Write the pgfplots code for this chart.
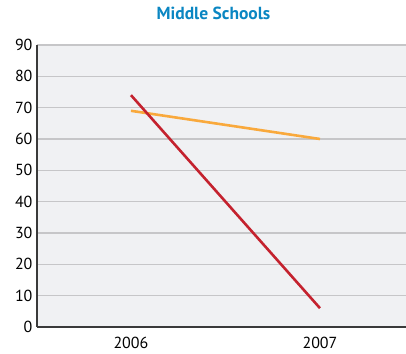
\documentclass[border=0pt]{standalone}
\usepackage{pgfplots}
\pgfplotsset{compat=1.18}
\usepackage{fontspec}
\setmainfont{PT Sans}
\definecolor{bgc}{HTML}{F0F1F3}
\definecolor{gridc}{HTML}{C6C6C8}
\definecolor{redl}{HTML}{C4222E}
\definecolor{orl}{HTML}{F9A93C}
\definecolor{titlec}{HTML}{0A86C2}
\definecolor{axc}{HTML}{3A3A3A}
\begin{document}
\begin{tikzpicture}
\begin{axis}[
  scale only axis,
  width=369pt, height=282pt,
  xmin=-0.497, xmax=1.455,
  ymin=0, ymax=90,
  ytick={0,10,...,90},
  xtick={0,1}, xticklabels={2006,2007},
  axis background/.style={fill=bgc},
  ymajorgrids, grid style={gridc, line width=1.2pt},
  axis x line*=bottom, axis y line*=left,
  axis line style={axc, line width=1.3pt, -},
  major tick length=0pt,
  tick style={draw=none},
  ticklabel style={font=\fontsize{16}{18}\selectfont, text=black},
  /pgf/number format/assume math mode=true,
  yticklabel style={xshift=-1pt},
  xticklabel style={yshift=-7pt},
  title={\textbf{Middle Schools}},
  title style={font=\fontsize{17.5}{20}\selectfont, text=titlec, at={(0.5,1)}, anchor=base, yshift=19pt, xshift=-8pt},
  clip=false,
]
\addplot[orl, line width=2.6pt] coordinates {(0,69) (1,60)};
\addplot[redl, line width=2.6pt] coordinates {(0,74) (1,6)};
\end{axis}
\pgfresetboundingbox
\path ([xshift=-37pt,yshift=-27pt]current axis.south west) rectangle ([yshift=45pt]current axis.north east);
\end{tikzpicture}
\end{document}
